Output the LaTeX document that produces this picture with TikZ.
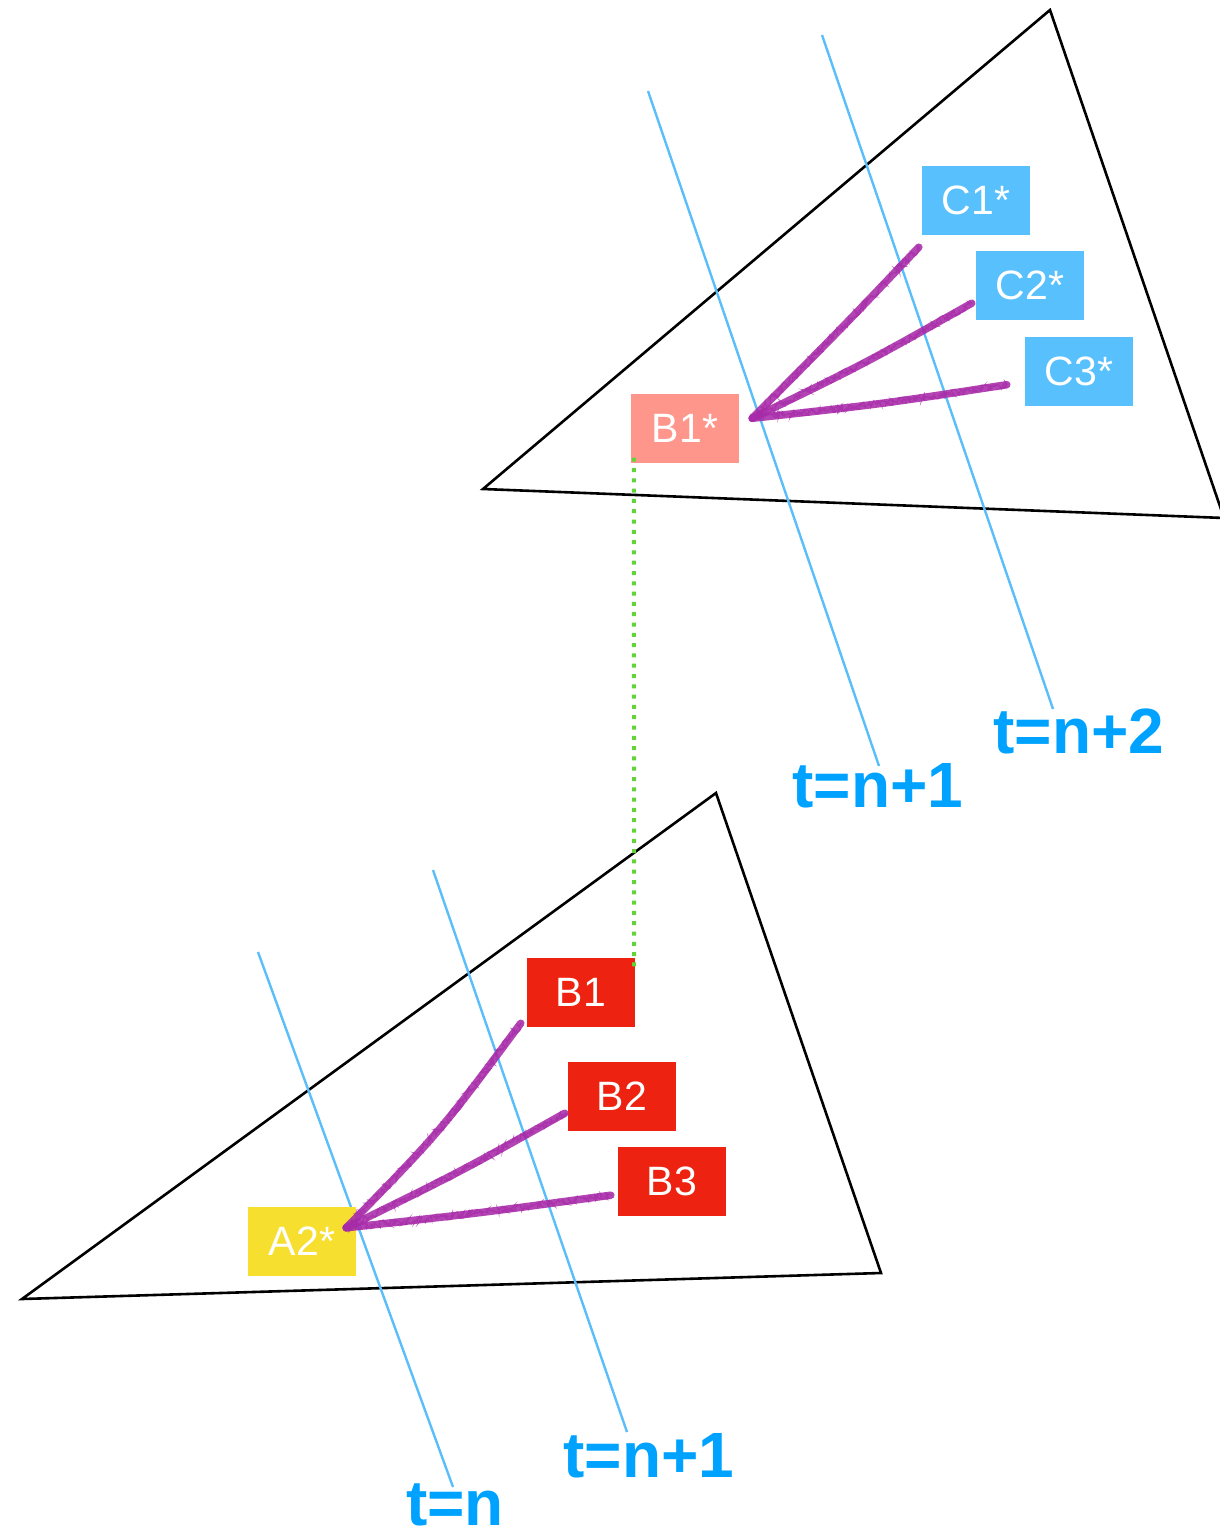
\documentclass[tikz,border=0pt]{standalone}
\usepackage{fontspec}
\setmainfont{Liberation Sans}
\usetikzlibrary{calc,decorations.pathmorphing}
\definecolor{tri}{RGB}{0,0,0}
\definecolor{tline}{RGB}{90,190,250}
\definecolor{tlabel}{RGB}{0,162,255}
\definecolor{salmon}{RGB}{255,150,140}
\definecolor{cblue}{RGB}{88,192,252}
\definecolor{bred}{RGB}{238,34,16}
\definecolor{ayel}{RGB}{247,223,48}
\definecolor{scr}{RGB}{167,42,168}
\definecolor{grn}{RGB}{98,212,58}
\tikzset{
  tribox/.style={draw=tri, line width=2.6pt, line join=miter},
  timeline/.style={draw=tline, line width=2.4pt},
  tlab/.style={text=tlabel, font=\fontsize{64}{64}\selectfont\bfseries, anchor=base, inner sep=0pt},
  card/.style={minimum width=108pt, minimum height=69pt, inner sep=0pt, text=white, font=\fontsize{41}{41}\selectfont},
  scrib/.style={draw=scr, line width=7.5pt, line cap=round, opacity=0.88,
    postaction={draw=scr, line width=1.2pt, opacity=0.7, decorate, decoration={random steps, segment length=1.2pt, amplitude=3.6pt}}},
  linkdots/.style={draw=grn, line width=4pt, dash pattern=on 4pt off 6.3pt}
}
\begin{document}
\begin{tikzpicture}[x=1pt,y=-1pt]
\useasboundingbox (0,0) rectangle (1220,1531);
% triangles
\draw[tribox] (483,489) -- (1050,10) -- (1224,518) -- cycle;
\draw[tribox] (22,1299) -- (716,793) -- (881,1273) -- cycle;
% time lines
\draw[timeline] (648,91) -- (879,766);
\draw[timeline] (822,35) -- (1053,709);
\draw[timeline] (258,952) -- (453,1487);
\draw[timeline] (433,870) -- (627,1432);
% time labels
\node[tlab] (l1) at (878,807) {t=n+1};
\node[tlab] (l2) at (1079,753) {t=n+2};
\node[tlab] (l3) at (649,1477) {t=n+1};
\node[tlab] (l4) at (455,1525) {t=n};
% cards
\node[card, fill=salmon] (bs) at (685,428) {B1*};
\node[card, fill=cblue] (c1) at (976,200.5) {C1*};
\node[card, fill=cblue] (c2) at (1030,285.5) {C2*};
\node[card, fill=cblue] (c3) at (1079,371) {C3*};
\node[card, fill=bred] (b1) at (581,992.5) {B1};
\node[card, fill=bred] (b2) at (622,1096.5) {B2};
\node[card, fill=bred] (b3) at (672,1181.5) {B3};
\node[card, fill=ayel] (a2) at (302,1241.5) {A2*};
% green dotted link
\draw[linkdots] ($(bs.south west)+(3,-5)$) -- ($(b1.north east)+(-1,14)$);
% scribbles
\coordinate (us) at ($(bs.north east)+(13,25)$);
\coordinate (ls) at ($(a2.north east)+(-10,21)$);
\draw[scrib] (us) .. controls (840,330) .. ($(c1.south west)+(-3,12)$);
\draw[scrib] (us) .. controls (864,364) .. ($(c2.south west)+(-4,-17)$);
\draw[scrib] (us) .. controls (882,404) .. ($(c3.south west)+(-18,-21)$);
\draw[scrib] (ls) .. controls (440,1132) .. ($(b1.south west)+(-6,-4)$);
\draw[scrib] (ls) .. controls (460,1172) .. ($(b2.south west)+(-3,-18)$);
\draw[scrib] (ls) .. controls (480,1213) .. ($(b3.south west)+(-7,-21)$);
\end{tikzpicture}
\end{document}
